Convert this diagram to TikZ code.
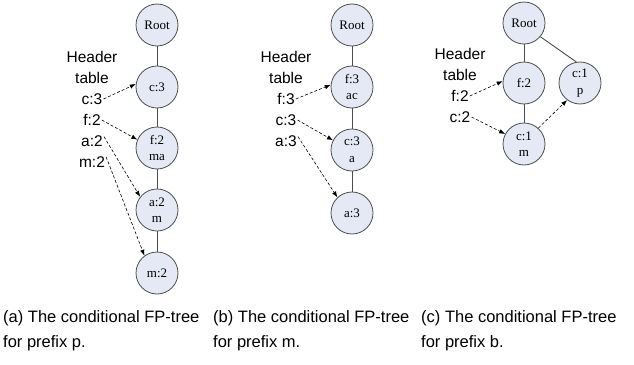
\documentclass[tikz,border=0pt]{standalone}
\usepackage{fontspec}
\setmainfont{Liberation Serif}
\newfontfamily\labelfont{Liberation Sans}
\usetikzlibrary{arrows.meta}
\definecolor{nodefill}{HTML}{E4E9F5}
\definecolor{nodeline}{HTML}{4D4D4D}
\tikzset{
  treenode/.style={circle, draw=nodeline, line width=0.8pt, fill=nodefill,
    minimum size=42pt, inner sep=0pt, align=center,
    font=\fontsize{13}{16.5}\selectfont},
  treeedge/.style={draw=nodeline, line width=0.9pt},
  hdr/.style={font=\labelfont\fontsize{15.5}{21}\selectfont, inner sep=1pt, align=center},
  link/.style={dashed, dash pattern=on 3pt off 2pt, line width=0.6pt,
    -{Latex[length=6pt,width=4.5pt]}},
  caption/.style={font=\labelfont\fontsize{16.5}{25}\selectfont, anchor=north west,
    align=left, inner sep=0pt}
}
\begin{document}
\begin{tikzpicture}[x=1pt,y=-1pt]
\useasboundingbox (0,0) rectangle (634,364);

% ---------- (a) prefix p ----------
\node[treenode] (aR) at (157,25) {Root};
\node[treenode] (aC) at (157,87) {c:3};
\node[treenode] (aF) at (157,148) {f:2\\ma};
\node[treenode] (aA) at (157,210) {a:2\\m};
\node[treenode] (aM) at (157,273) {m:2};
\draw[treeedge] (aR) -- (aC) -- (aF) -- (aA) -- (aM);
\node[hdr] (aH) at (92,67) {Header\\table};
\node[hdr] (ac) at (92,99) {c:3};
\node[hdr] (af) at (92,120) {f:2};
\node[hdr] (aa) at (92,141) {a:2};
\node[hdr] (am) at (92,162) {m:2};
\draw[link] (ac.east) -- (aC.172);
\draw[link] (af.east) -- (aF.157);
\draw[link] (aa.20) -- (aA.142);
\draw[link] (am.20) -- (aM.126);

% ---------- (b) prefix m ----------
\node[treenode] (bR) at (352,25) {Root};
\node[treenode] (bF) at (352,87) {f:3\\ac};
\node[treenode] (bC) at (352,150) {c:3\\a};
\node[treenode] (bA) at (352,213) {a:3};
\draw[treeedge] (bR) -- (bF) -- (bC) -- (bA);
\node[hdr] (bH) at (286,67) {Header\\table};
\node[hdr] (bf) at (286,99) {f:3};
\node[hdr] (bc) at (286,120) {c:3};
\node[hdr] (ba) at (286,141) {a:3};
\draw[link] (bf.east) -- (bF.174);
\draw[link] (bc.east) -- (bC.153);
\draw[link] (ba.20) -- (bA.133);

% ---------- (c) prefix b ----------
\node[treenode] (cR) at (524,23) {Root};
\node[treenode] (cF) at (524,83) {f:2};
\node[treenode] (cC) at (524,144) {c:1\\m};
\node[treenode] (cP) at (580,83) {c:1\\p};
\draw[treeedge] (cR) -- (cF) -- (cC);
\draw[treeedge] (cR.-40) -- (cP.100);
\node[hdr] (cH) at (460,64) {Header\\table};
\node[hdr] (cf) at (460,96) {f:2};
\node[hdr] (cc) at (460,117) {c:2};
\draw[link] (cf.east) -- (cF.175);
\draw[link] (cc.east) -- (cC.152);
\draw[link] (cC.48) -- (cP.233);

% ---------- captions ----------
\node[caption] (capa) at (3,310) {(a) The conditional FP-tree\\for prefix p.};
\node[caption] (capb) at (213,310) {(b) The conditional FP-tree\\for prefix m.};
\node[caption] (capc) at (421,310) {(c) The conditional FP-tree\\for prefix b.};
\end{tikzpicture}
\end{document}
